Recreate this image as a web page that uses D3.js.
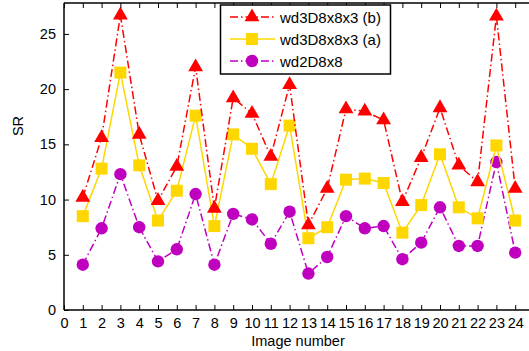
<!DOCTYPE html>
<html>
<head>
<meta charset="utf-8">
<script src="https://cdn.jsdelivr.net/npm/d3@7"></script>
<style>
  body { margin: 0; background: #fff; }
  text { font-family: "Liberation Sans", Arial, sans-serif; }
</style>
</head>
<body>
<svg id="chart" width="529" height="351"></svg>
<script>
const images = d3.range(1, 25);
const seriesB = [10.2, 15.6, 26.7, 15.9, 9.9, 13.0, 22.0, 9.2, 19.2, 17.8, 13.9, 20.4,
                 7.7, 11.0, 18.2, 18.0, 17.2, 9.8, 13.8, 18.3, 13.1, 11.6, 26.6, 11.0];
const seriesA = [8.5, 12.8, 21.5, 13.1, 8.1, 10.8, 17.6, 7.6, 15.9, 14.6, 11.4, 16.7,
                 6.5, 7.5, 11.8, 11.9, 11.5, 7.0, 9.5, 14.1, 9.3, 8.3, 14.9, 8.1];
const series2D = [4.1, 7.4, 12.3, 7.5, 4.4, 5.5, 10.5, 4.1, 8.7, 8.2, 6.0, 8.9,
                  3.3, 4.8, 8.5, 7.4, 7.6, 4.6, 6.1, 9.3, 5.8, 5.8, 13.4, 5.2];
const xTicks = d3.range(0, 25);
const yTicks = [0, 5, 10, 15, 20, 25];
const names = ['wd3D8x8x3 (b)', 'wd3D8x8x3 (a)', 'wd2D8x8'];

const svg = d3.select('#chart');
const mLeft = 64, mRight = 534, mTop = 3, mBottom = 310;

const x = d3.scaleLinear().domain([0, 25]).range([mLeft, mRight]);
const y = d3.scaleLinear().domain([0, 27.8]).range([mBottom, mTop]);

const styles = [
  { data: seriesB, color: '#ff0000', dash: '8,3,1.5,3', marker: 'tri' },
  { data: seriesA, color: '#ffd700', dash: null, marker: 'sq' },
  { data: series2D, color: '#bf00bf', dash: '8,3,1.5,3', marker: 'circ' }
];

const line = d3.line().x((d, i) => x(images[i])).y(d => y(d));

function marker(g, type, color) {
  if (type === 'tri') {
    g.append('path').attr('d', d3.symbol(d3.symbolTriangle, 95)()).attr('fill', color);
  } else if (type === 'sq') {
    g.append('rect').attr('x', -6).attr('y', -6).attr('width', 12).attr('height', 12).attr('fill', color);
  } else {
    g.append('circle').attr('r', 6.2).attr('fill', color);
  }
}

// draw order: 2D first, then a, then b on top
[2, 1, 0].forEach(k => {
  const s = styles[k];
  svg.append('path')
    .attr('d', line(s.data))
    .attr('fill', 'none')
    .attr('stroke', s.color)
    .attr('stroke-width', 1.5)
    .attr('stroke-dasharray', s.dash);
  s.data.forEach((v, i) => {
    const g = svg.append('g').attr('transform', `translate(${x(images[i])},${y(v)})`);
    marker(g, s.marker, s.color);
  });
});

// axes
const ax = svg.append('g').attr('stroke', '#000').attr('stroke-width', 1.5);
ax.append('line').attr('x1', mLeft).attr('x2', 529).attr('y1', mBottom).attr('y2', mBottom);
ax.append('line').attr('x1', mLeft).attr('x2', 529).attr('y1', mTop).attr('y2', mTop);
ax.append('line').attr('x1', mLeft).attr('x2', mLeft).attr('y1', mTop).attr('y2', mBottom);

const xa = d3.axisBottom(x).tickValues(xTicks).tickSize(-5).tickSizeOuter(0).tickPadding(8);
const gx = svg.append('g').attr('transform', `translate(0,${mBottom})`).call(xa);
gx.select('.domain').remove();
gx.selectAll('text').attr('font-size', 14.5).attr('fill', '#000');
gx.selectAll('line').attr('stroke-width', 1);

const xt = d3.axisTop(x).tickValues(xTicks).tickSize(-5).tickFormat('');
const gxt = svg.append('g').attr('transform', `translate(0,${mTop})`).call(xt);
gxt.select('.domain').remove();

const ya = d3.axisLeft(y).tickValues(yTicks).tickSize(-5).tickSizeOuter(0).tickPadding(8);
const gy = svg.append('g').attr('transform', `translate(${mLeft},0)`).call(ya);
gy.select('.domain').remove();
gy.selectAll('text').attr('font-size', 14.5).attr('fill', '#000');

svg.append('text').attr('x', 298).attr('y', 346).attr('text-anchor', 'middle')
  .attr('font-size', 14.5).text('Image number');
svg.append('text').attr('transform', 'translate(23,126) rotate(-90)').attr('text-anchor', 'middle')
  .attr('font-size', 14.5).text('SR');

// legend
const lg = svg.append('g');
lg.append('rect').attr('x', 220.5).attr('y', 5).attr('width', 170).attr('height', 69)
  .attr('fill', '#fff').attr('stroke', '#000').attr('stroke-width', 1.5);
styles.forEach((s, k) => {
  const ly = 17 + k * 22;
  lg.append('line').attr('x1', 230).attr('x2', 275).attr('y1', ly).attr('y2', ly)
    .attr('stroke', s.color).attr('stroke-width', 1.5).attr('stroke-dasharray', s.dash);
  const g = lg.append('g').attr('transform', `translate(252,${ly})`);
  marker(g, s.marker, s.color);
  lg.append('text').attr('x', 280).attr('y', ly + 5.5).attr('font-size', 15).text(names[k]);
});
</script>
</body>
</html>
